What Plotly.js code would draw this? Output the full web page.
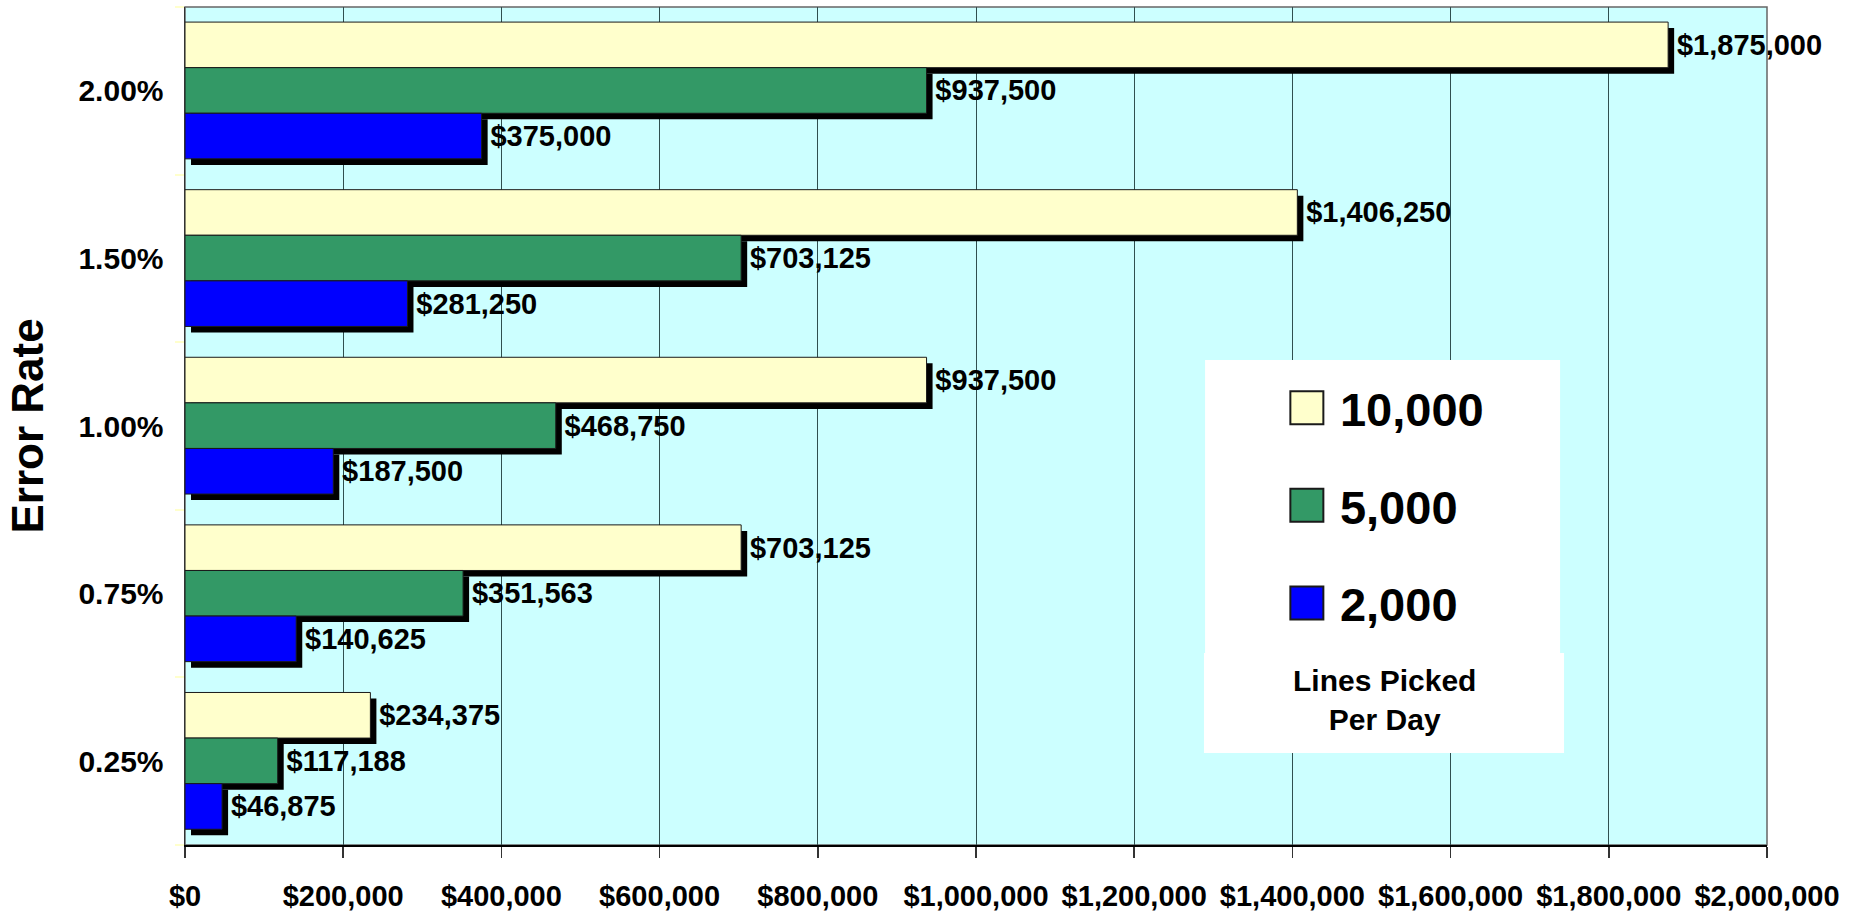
<!DOCTYPE html>
<html>
<head>
<meta charset="utf-8">
<script src="https://cdn.plot.ly/plotly-3.0.1.min.js"></script>
<style>
  html, body { margin: 0; padding: 0; background: #ffffff; }
  #chart { width: 1862px; height: 917px; }
</style>
</head>
<body>
<div id="chart"></div>
<script>
// ---- data ----
const errorRates = ["0.25%", "0.75%", "1.00%", "1.50%", "2.00%"];
const seriesNames = ["10,000", "5,000", "2,000"];
const lines10000 = [234375, 703125, 937500, 1406250, 1875000];
const lines5000  = [117188, 351563, 468750, 703125, 937500];
const lines2000  = [46875, 140625, 187500, 281250, 375000];
const xTickValues = [0, 200000, 400000, 600000, 800000, 1000000, 1200000, 1400000, 1600000, 1800000, 2000000];
const legendNote = "Lines Picked<br>Per Day";
const yAxisTitle = "Error Rate";

// ---- styling ----
const FONT = "Liberation Sans, Arial, Helvetica, sans-serif";
const colors = ["#FFFFCC", "#339966", "#0000FF"];
const seriesValues = [lines10000, lines5000, lines2000];
const barWidth = 0.272;
const barOffsets = seriesValues.map((_, i) => 0.41 - (i + 1) * barWidth);
const shadowDown = 0.036;     // category units (~6px)
const shadowRight = 7600;     // value units (~6px)

function money(v) { return "$" + v.toLocaleString("en-US"); }

const traces = [];
// shadows first
seriesValues.forEach((vals, i) => {
  traces.push({
    type: "bar", orientation: "h",
    y: errorRates, x: vals,
    base: shadowRight,
    offset: barOffsets[i] - shadowDown, width: barWidth,
    marker: { color: "#000000", line: { width: 0 } },
    showlegend: false, hoverinfo: "skip"
  });
});
// real bars
seriesValues.forEach((vals, i) => {
  traces.push({
    type: "bar", orientation: "h",
    name: "\u00a0" + seriesNames[i], legendgroup: "g" + i,
    y: errorRates, x: vals,
    offset: barOffsets[i], width: barWidth,
    marker: { color: colors[i], line: { color: "#1a1a1a", width: 1 } },
    text: vals.map(v => "\u2009" + money(v)),
    textposition: "outside",
    textfont: { family: FONT, size: 29, weight: 700, color: "#000000" },
    constraintext: "none",
    cliponaxis: false,
    hoverinfo: "x+name"
  });
});

const layout = {
  width: 1862, height: 917,
  margin: { l: 185, r: 95, t: 7, b: 72 },
  paper_bgcolor: "#ffffff",
  plot_bgcolor: "#CCFFFF",
  barmode: "overlay",
  font: { family: FONT, size: 29, weight: 700, color: "#000000" },
  xaxis: {
    range: [0, 2000000],
    tickvals: xTickValues,
    ticktext: xTickValues.map(money),
    showgrid: true, gridcolor: "#2F4F4F", gridwidth: 1,
    zeroline: false,
    showline: true, linecolor: "#000000", linewidth: 1.5,
    ticks: "outside", ticklen: 11, tickcolor: "#333333", tickwidth: 1.5,
    ticklabelstandoff: 14,
    tickfont: { family: FONT, size: 29, weight: 700, color: "#000000" }
  },
  yaxis: {
    type: "category",
    categoryorder: "array", categoryarray: errorRates,
    range: [-0.5, 4.5],
    showgrid: false, zeroline: false,
    showline: true, linecolor: "#333333", linewidth: 1.5,
    ticks: "outside", tickson: "boundaries", ticklen: 9,
    tickcolor: "#FFFFCC", tickwidth: 2,
    ticklabelstandoff: 14,
    tickfont: { family: FONT, size: 30, weight: 700, color: "#000000" },
    title: { text: yAxisTitle, font: { family: FONT, size: 44, weight: 700, color: "#000000" }, standoff: 21 }
  },
  showlegend: true,
  legend: {
    x: 0.6965, xanchor: "left",
    y: 0.566, yanchor: "top",
    bgcolor: "rgba(0,0,0,0)",
    borderwidth: 0,
    traceorder: "grouped",
    tracegroupgap: 33.5,
    font: { family: FONT, size: 47, weight: 700, color: "#000000" }
  },
  shapes: [
    { type: "rect", xref: "paper", yref: "paper", layer: "above",
      x0: 0.6448, x1: 0.8692, y0: 0.2291, y1: 0.5788,
      fillcolor: "#ffffff", line: { width: 0 } },
    { type: "rect", xref: "paper", yref: "paper", layer: "above",
      x0: 0.6441, x1: 0.8717, y0: 0.1098, y1: 0.2291,
      fillcolor: "#ffffff", line: { width: 0 } },
    { type: "rect", xref: "paper", yref: "paper", layer: "below",
      x0: 0, x1: 1, y0: 0, y1: 1,
      fillcolor: "rgba(0,0,0,0)", line: { color: "#666666", width: 1.5 } }
  ],
  annotations: [
    { xref: "paper", yref: "paper", x: 0.758, y: 0.173,
      xanchor: "center", yanchor: "middle", showarrow: false,
      text: legendNote, align: "center",
      font: { family: FONT, size: 30, weight: 700, color: "#000000" } }
  ]
};

Plotly.newPlot("chart", traces, layout, { displayModeBar: false, staticPlot: true }).then(gd => {
  // enlarge legend swatches to match the reference
  document.querySelectorAll("#chart .legend .legendpoints path").forEach(p => {
    p.setAttribute("d", "M16.5,16.5H-16.5V-16.5H16.5Z");
    p.style.strokeWidth = "2px";
    p.style.stroke = "#1a1a1a";
  });
});
</script>
</body>
</html>
